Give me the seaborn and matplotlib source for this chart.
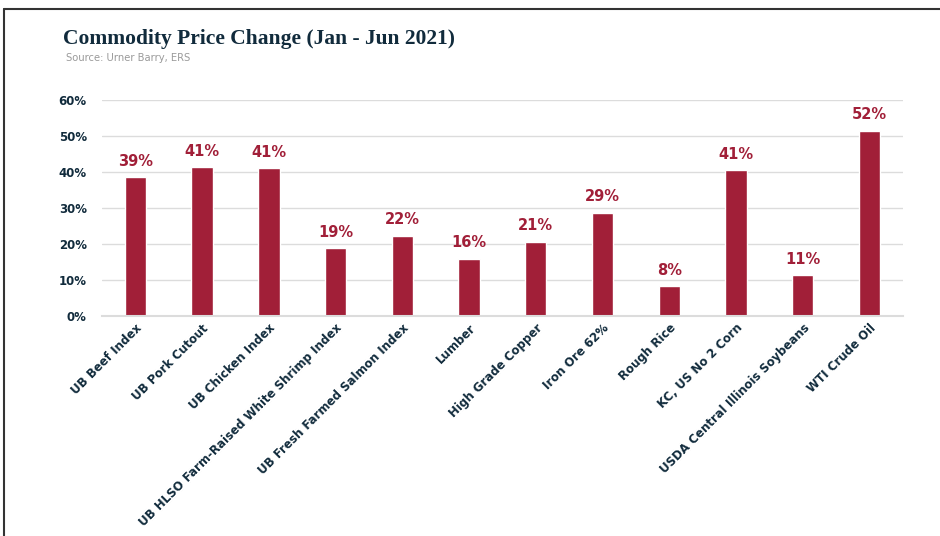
import matplotlib
matplotlib.use("Agg")
import matplotlib.pyplot as plt
import seaborn as sns
import pandas as pd
from matplotlib.lines import Line2D

categories = ["UB Beef Index", "UB Pork Cutout", "UB Chicken Index",
              "UB HLSO Farm-Raised White Shrimp Index", "UB Fresh Farmed Salmon Index",
              "Lumber", "High Grade Copper", "Iron Ore 62%", "Rough Rice",
              "KC, US No 2 Corn", "USDA Central Illinois Soybeans", "WTI Crude Oil"]
values = [38.6, 41.3, 41.1, 18.8, 22.3, 15.9, 20.7, 28.7, 8.3, 40.6, 11.4, 51.5]
yticks = [0, 10, 20, 30, 40, 50, 60]

NAVY = "#112b3c"
RED = "#a11f38"

sns.set_theme(style="white")
plt.rcParams['font.family'] = ['DejaVu Sans']

df = pd.DataFrame({"cat": categories, "val": values})

fig = plt.figure(figsize=(9.4, 5.36), dpi=100)
ax = fig.add_axes([0.1085, 0.4104, 0.852, 0.403])
sns.barplot(data=df, x="cat", y="val", color=RED, width=0.32, ax=ax, saturation=1)

ax.set_ylim(0, 60)
ax.set_xlim(-0.5, len(categories) - 0.5)
ax.set_yticks(yticks)
ax.set_yticklabels([f"{t}%" for t in yticks], fontsize=8.5, fontweight="bold", color=NAVY)
ax.yaxis.grid(True, color="#dcdcdc", linewidth=1)
ax.set_axisbelow(True)
for s in ["top", "right", "left"]:
    ax.spines[s].set_visible(False)
ax.spines["bottom"].set_color("#dcdcdc")
ax.spines["bottom"].set_linewidth(1.5)
ax.tick_params(axis="y", length=0, pad=11)
ax.tick_params(axis="x", length=0, pad=4)
ax.set_xlabel("")
ax.set_ylabel("")
ax.set_xticks(range(len(categories)))
ax.set_xticklabels(categories, rotation=45, ha="right", rotation_mode="anchor",
                   fontsize=8.5, fontweight="bold", color=NAVY)

for cont in ax.containers:
    ax.bar_label(cont, labels=[f"{round(v)}%" for v in values], padding=6,
                 fontsize=10.5, fontweight="bold", color=RED)

fig.text(0.067, 0.918, "Commodity Price Change (Jan - Jun 2021)", fontsize=15.5,
         fontweight="bold", family=["Liberation Serif", "DejaVu Serif"], color=NAVY,
         va="baseline")
fig.text(0.070, 0.886, "Source: Urner Barry, ERS", fontsize=7.2, color="#9a9a9a",
         va="baseline")

fig.add_artist(Line2D([0.004, 0.004], [0, 0.983], transform=fig.transFigure,
                      color="#333333", linewidth=1.5))
fig.add_artist(Line2D([0.004, 1.0], [0.983, 0.983], transform=fig.transFigure,
                      color="#333333", linewidth=1.5))

fig.savefig("out.png", dpi=100)
